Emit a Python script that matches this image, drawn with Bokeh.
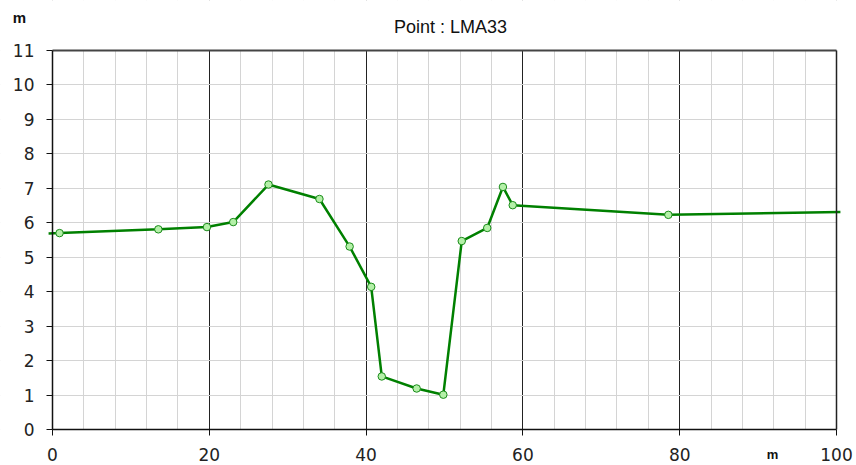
from bokeh.plotting import figure
from bokeh.models import FixedTicker, Range1d, Label, LinearAxis, BoxAnnotation
from bokeh.embed import file_html
from bokeh.resources import INLINE

# Profile data (distance in m, elevation in m)
dist = [-0.5, 0.9, 13.5, 19.7, 23.05, 27.55, 34.05, 37.9, 40.65, 42.0, 46.45, 49.85, 52.2, 55.45, 57.45, 58.7, 78.55, 100.5]
elev = [5.69, 5.70, 5.81, 5.875, 6.02, 7.11, 6.69, 5.31, 4.14, 1.54, 1.19, 1.01, 5.47, 5.85, 7.04, 6.51, 6.23, 6.31]
marker_dist = dist[1:-1]
marker_elev = elev[1:-1]

x_ticks = [0, 20, 40, 60, 80, 100]
x_minor = [4, 8, 12, 16, 24, 28, 32, 36, 44, 48, 52, 56, 64, 68, 72, 76, 84, 88, 92, 96]
y_ticks = list(range(0, 12))
X_MIN, X_MAX, Y_MIN, Y_MAX = 0, 100, 0, 11

W, H = 856, 465
FL, FT, FR, FB = 52, 50, 836, 429  # plot box edges in canvas pixels
sx = (FR - FL) / (X_MAX - X_MIN)
sy = (FB - FT) / (Y_MAX - Y_MIN)

p = figure(width=W, height=H, output_backend="svg", toolbar_location=None,
           x_range=Range1d(X_MIN - FL / sx, X_MAX + (W - FR) / sx),
           y_range=Range1d(Y_MIN - (H - FB) / sy, Y_MAX + FT / sy),
           min_border_left=0, min_border_right=0, min_border_top=0,
           min_border_bottom=0, background_fill_color="white",
           border_fill_color="white")
p.outline_line_color = None

p.xaxis.ticker = FixedTicker(ticks=x_ticks, minor_ticks=x_minor)
p.yaxis.ticker = FixedTicker(ticks=y_ticks)
p.xaxis.fixed_location = Y_MIN
p.yaxis.fixed_location = X_MIN
p.xaxis.bounds = (X_MIN, X_MAX)
p.yaxis.bounds = (Y_MIN, Y_MAX)

for ax in (p.xaxis[0], p.yaxis[0]):
    ax.major_label_text_font = "DejaVu Sans"
    ax.major_label_text_font_size = "17px"
    ax.major_label_text_color = "#222222"
    ax.axis_line_color = "#111111"
    ax.axis_line_width = 1.5
    ax.major_tick_line_color = "#111111"
    ax.major_tick_in = 0
    ax.major_tick_out = 6
    ax.minor_tick_line_color = None
    ax.major_label_standoff = 12

# top and right borders of the plot box
top_ax = LinearAxis(fixed_location=Y_MAX, bounds=(X_MIN, X_MAX), ticker=FixedTicker(ticks=[]),
                    axis_line_color="#444444", axis_line_width=2,
                    major_tick_line_color=None, minor_tick_line_color=None,
                    major_label_text_color=None)
right_ax = LinearAxis(fixed_location=X_MAX, bounds=(Y_MIN, Y_MAX), ticker=FixedTicker(ticks=[]),
                      axis_line_color="#222222", axis_line_width=1.5,
                      major_tick_line_color=None, minor_tick_line_color=None,
                      major_label_text_color=None)
p.add_layout(top_ax, "above")
p.add_layout(right_ax, "right")

p.xgrid.ticker = FixedTicker(ticks=x_ticks, minor_ticks=x_minor)
p.ygrid.ticker = FixedTicker(ticks=y_ticks)
p.xgrid.grid_line_color = "#222222"
p.xgrid.grid_line_width = 1
p.xgrid.minor_grid_line_color = "#d4d4d4"
p.xgrid.minor_grid_line_width = 1
p.ygrid.grid_line_color = "#d4d4d4"
p.ygrid.grid_line_width = 1

# white masks outside the plot box (hide grid lines there)
for kw in (dict(left=-1e3, right=X_MIN, bottom=-1e3, top=1e3),
           dict(left=X_MAX, right=1e3, bottom=-1e3, top=1e3),
           dict(left=-1e3, right=1e3, bottom=-1e3, top=Y_MIN),
           dict(left=-1e3, right=1e3, bottom=Y_MAX, top=1e3)):
    p.add_layout(BoxAnnotation(fill_color="white", fill_alpha=1, line_color=None,
                               level="underlay", **kw))

p.line(dist, elev, line_color="#008000", line_width=2.5)
p.scatter(marker_dist, marker_elev, size=7.5, fill_color="#b4f0a8",
          line_color="#1a8c1a", line_width=1)

def px_to_data(px, py):
    return X_MIN + (px - FL) / sx, Y_MIN + (FB - py) / sy

for txt, (cx, cy), size, style in (("m", (19, 17), "15px", "bold"),
                                   ("Point : LMA33", (450, 26), "18px", "normal"),
                                   ("m", (772, 454), "13px", "bold")):
    dx, dy = px_to_data(cx, cy)
    p.add_layout(Label(x=dx, y=dy, text=txt, text_font="Liberation Sans",
                       text_font_style=style, text_font_size=size,
                       text_align="center", text_baseline="middle",
                       text_color="#111111"))

open("out.html", "w").write(file_html(p, INLINE))
